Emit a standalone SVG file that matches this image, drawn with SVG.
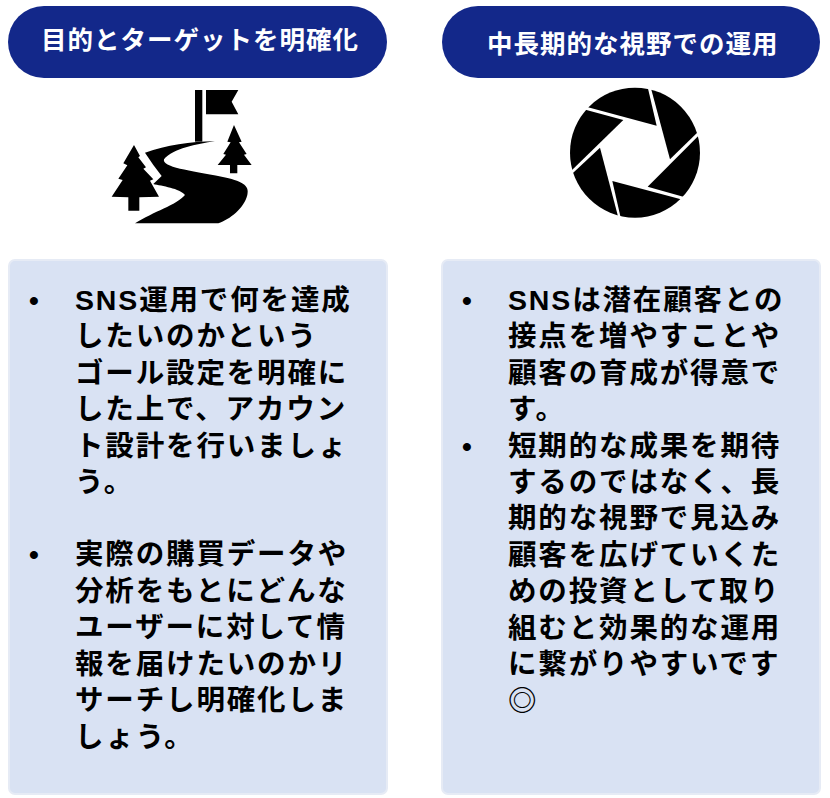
<svg xmlns="http://www.w3.org/2000/svg" width="830" height="798" viewBox="0 0 830 798">
<style>
text{font-family:"Liberation Sans","Noto Sans CJK JP",sans-serif;font-weight:700}
.h{font-size:25.5px;letter-spacing:1px;fill:#fff}
.b{font-size:28.5px;letter-spacing:1.85px;fill:#000}
.d{font-size:28px;fill:#000}
.pill{fill:#13288A}
.box{fill:#D9E2F3;stroke:#E6EBF5;stroke-width:2}
</style>
<defs><clipPath id="lens"><circle cx="240" cy="218" r="195"/></clipPath></defs>
<rect width="830" height="798" fill="#fff"/>
<g id="header-left"><rect class="pill" x="8" y="6" width="379" height="72" rx="36"/><text class="h" x="41" y="49">目的とターゲットを明確化</text></g>
<g id="header-right"><rect class="pill" x="442" y="6" width="378" height="72" rx="36"/><text class="h" x="487" y="53">中長期的な視野での運用</text></g>
<g id="icon-road" transform="translate(90 80) scale(.3333)">
<path d="M315 30H337V185H315Z"/>
<path d="M348 30H445L425 65L445 103H348Z"/>
<path d="M132 195L150 228L145 232L168 262L160 266L190 298L180 302L207 350L148 352V392H115V352L65 350L98 300L85 296L112 256L100 250Z"/>
<path d="M432 135L455 185L447 187L470 222L462 224L485 255H442V280H420V255H383L408 224L400 222L422 187L412 185Z"/>
<path d="M165 218C230 195 300 185 375 184C320 192 250 205 222 238C215 262 300 272 395 290C455 302 480 315 472 345C462 385 420 418 385 430H135C190 395 260 375 285 345C270 325 215 318 190 312L215 288L190 255Z"/>
</g>
<g id="icon-aperture" transform="translate(555 80) scale(.3333)"><g clip-path="url(#lens)">
<path d="M305 137L60 71L150 -40L270 -13Z"/>
<path d="M345 238L280 -5L480 40L470 116Z"/>
<path d="M278 320L475 123L500 300L430 363Z"/>
<path d="M172 303L420 369L300 480L210 470Z"/>
<path d="M135 203L205 470L20 400L10 320Z"/>
<path d="M205 120L5 315L-10 150L50 78Z"/>
</g></g>
<g id="panel-left"><rect class="box" x="9" y="260" width="378" height="534" rx="6"/>
<text class="d" x="29" y="310">•</text>
<text class="b" x="75" y="310">SNS運用で何を達成</text>
<text class="b" x="75" y="346">したいのかという</text>
<text class="b" x="75" y="383">ゴール設定を明確に</text>
<text class="b" x="75" y="419">した上で、アカウン</text>
<text class="b" x="75" y="456">ト設計を行いましょ</text>
<text class="b" x="75" y="492">う。</text>
<text class="d" x="29" y="564">•</text>
<text class="b" x="75" y="564">実際の購買データや</text>
<text class="b" x="75" y="601">分析をもとにどんな</text>
<text class="b" x="75" y="637">ユーザーに対して情</text>
<text class="b" x="75" y="674">報を届けたいのかリ</text>
<text class="b" x="75" y="710">サーチし明確化しま</text>
<text class="b" x="75" y="747">しょう。</text>
</g>
<g id="panel-right"><rect class="box" x="442" y="260" width="378" height="534" rx="6"/>
<text class="d" x="462" y="310">•</text>
<text class="b" x="508" y="310">SNSは潜在顧客との</text>
<text class="b" x="508" y="346">接点を増やすことや</text>
<text class="b" x="508" y="383">顧客の育成が得意で</text>
<text class="b" x="508" y="419">す。</text>
<text class="d" x="462" y="456">•</text>
<text class="b" x="508" y="456">短期的な成果を期待</text>
<text class="b" x="508" y="492">するのではなく、長</text>
<text class="b" x="508" y="528">期的な視野で見込み</text>
<text class="b" x="508" y="565">顧客を広げていくた</text>
<text class="b" x="508" y="601">めの投資として取り</text>
<text class="b" x="508" y="638">組むと効果的な運用</text>
<text class="b" x="508" y="674">に繋がりやすいです</text>
<text class="b" x="508" y="711">◎</text>
</g>
</svg>
